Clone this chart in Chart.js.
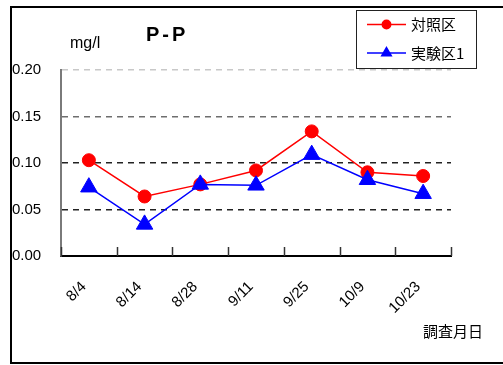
<!DOCTYPE html>
<html>
<head>
<meta charset="utf-8">
<script src="https://cdn.jsdelivr.net/npm/chart.js@4"></script>
<style>
    html, body { margin: 0; padding: 0; background: #fff; }
    #wrap { width: 503px; height: 365px; }
</style>
</head>
<body>
<div id="wrap"><canvas id="ppChart" width="503" height="365"></canvas></div>
<script>
// P-P concentration per survey date (mg/l)
const surveyDates = ['8/4', '8/14', '8/28', '9/11', '9/25', '10/9', '10/23'];
const controlPlot = [0.103, 0.064, 0.077, 0.092, 0.134, 0.090, 0.086];
const testPlot1 = [0.074, 0.034, 0.077, 0.076, 0.109, 0.082, 0.067];
const seriesNames = ['対照区', '実験区1'];

const LATIN = '"Liberation Sans", Arial, sans-serif';
const JP = '"Noto Sans CJK JP", "Noto Sans", sans-serif';

function gridColor(ctx) {
    const v = ctx.tick ? ctx.tick.value : 0;
    if (v <= 0) return 'rgba(0,0,0,0)';
    if (v >= 0.2) return '#c8c8c8';
    if (v >= 0.15) return '#6e6e6e';
    return '#222';
}

// frame, titles, inward x ticks and the boxed legend
const decorations = {
    id: 'decorations',
    afterDraw(chart) {
        const { ctx, chartArea } = chart;
        const xScale = chart.scales.x;
        ctx.save();

        // outer frame (open on the right)
        ctx.strokeStyle = '#000';
        ctx.lineWidth = 2;
        ctx.beginPath();
        ctx.moveTo(503, 7);
        ctx.lineTo(11, 7);
        ctx.lineTo(11, 363);
        ctx.lineTo(503, 363);
        ctx.stroke();

        // category boundary ticks pointing up into the plot
        ctx.strokeStyle = '#333';
        ctx.lineWidth = 1.5;
        const n = surveyDates.length;
        const step = (xScale.right - xScale.left) / n;
        for (let i = 0; i <= n; i++) {
            const x = Math.round(xScale.left + i * step) + 0.5;
            ctx.beginPath();
            ctx.moveTo(x, chartArea.bottom);
            ctx.lineTo(x, chartArea.bottom - 9);
            ctx.stroke();
        }

        ctx.fillStyle = '#000';
        ctx.textBaseline = 'alphabetic';
        ctx.textAlign = 'left';
        ctx.font = 'bold 20px ' + LATIN;
        ctx.letterSpacing = '3px';
        ctx.fillText('P-P', 146, 41);
        ctx.letterSpacing = '0px';
        ctx.font = '16px ' + LATIN;
        ctx.fillText('mg/l', 70, 48);

        ctx.textBaseline = 'middle';
        ctx.font = '15px ' + JP;
        ctx.fillText('調査月日', 423, 331);

        // legend
        ctx.lineWidth = 1;
        ctx.strokeStyle = '#222';
        ctx.strokeRect(356.5, 10.5, 120, 58);
        const rows = [24.5, 53];
        chart.data.datasets.forEach((ds, i) => {
            const y = rows[i];
            ctx.strokeStyle = ds.borderColor;
            ctx.lineWidth = 1.5;
            ctx.beginPath();
            ctx.moveTo(367, y);
            ctx.lineTo(406, y);
            ctx.stroke();
            ctx.fillStyle = ds.pointBackgroundColor;
            ctx.strokeStyle = ds.pointBorderColor;
            Chart.helpers.drawPoint(ctx, {
                pointStyle: ds.pointStyle,
                radius: ds.pointStyle === 'triangle' ? 5.5 : 4.2,
                rotation: 0,
                borderWidth: 1
            }, 386.5, y);
            ctx.fillStyle = '#000';
            ctx.font = '15px ' + JP;
            ctx.fillText(ds.label, 411, y);
        });

        ctx.restore();
    }
};

new Chart(document.getElementById('ppChart'), {
    type: 'line',
    data: {
        labels: surveyDates,
        datasets: [{
            label: seriesNames[0],
            data: controlPlot,
            borderColor: '#ff0000',
            backgroundColor: '#ff0000',
            borderWidth: 1.5,
            pointStyle: 'circle',
            pointRadius: 6.5,
            pointBackgroundColor: '#ff0000',
            pointBorderColor: '#ff0000',
            pointBorderWidth: 1,
            tension: 0,
            order: 1
        }, {
            label: seriesNames[1],
            data: testPlot1,
            borderColor: '#0000ff',
            backgroundColor: '#0000ff',
            borderWidth: 1.5,
            pointStyle: 'triangle',
            pointRadius: 9.5,
            pointBackgroundColor: '#0000ff',
            pointBorderColor: '#0000ff',
            pointBorderWidth: 1,
            tension: 0,
            order: 0
        }]
    },
    options: {
        responsive: false,
        animation: false,
        layout: {
            padding: { left: 12, top: 70, right: 52, bottom: 0 }
        },
        plugins: {
            legend: { display: false },
            tooltip: { enabled: false }
        },
        scales: {
            x: {
                offset: true,
                grid: { display: false },
                border: { color: '#000', width: 2 },
                ticks: {
                    autoSkip: false,
                    minRotation: 45,
                    maxRotation: 45,
                    padding: 14,
                    labelOffset: -5,
                    color: '#000',
                    font: { family: LATIN, size: 15 }
                },
                afterFit(scale) {
                    scale.height = 109;
                }
            },
            y: {
                min: 0,
                max: 0.2,
                grid: {
                    color: gridColor,
                    lineWidth: 1.5,
                    drawTicks: false
                },
                border: { color: '#7a7a7a', width: 2, dash: [6, 5] },
                ticks: {
                    stepSize: 0.05,
                    crossAlign: 'far',
                    padding: 0,
                    color: '#000',
                    font: { family: LATIN, size: 15 },
                    callback: (v) => v.toFixed(2)
                },
                afterFit(scale) {
                    scale.width = 49;
                }
            }
        }
    },
    plugins: [decorations]
});
</script>
</body>
</html>
